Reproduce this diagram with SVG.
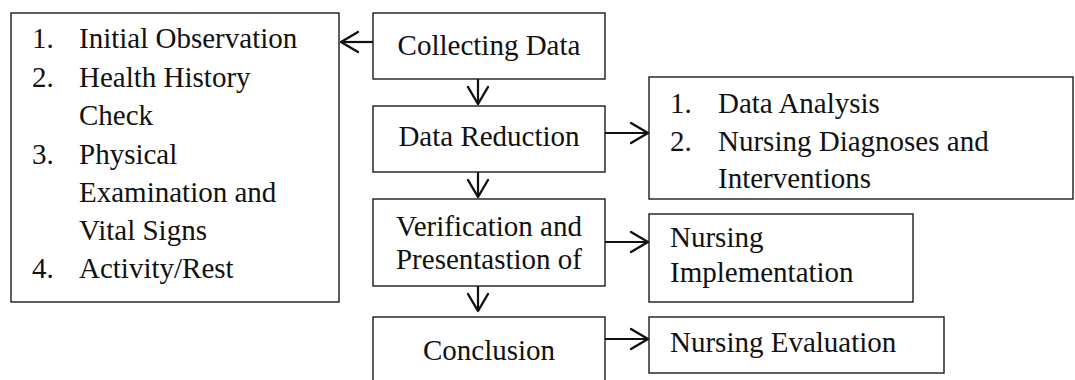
<svg xmlns="http://www.w3.org/2000/svg" width="1075" height="380" viewBox="0 0 1075 380">
<style>
.box{fill:#fff;stroke:#1a1a1a;stroke-width:1.4}
text{font-family:"Liberation Serif","Times New Roman",serif;font-size:29px;fill:#111}
.c{text-anchor:middle}
.conn{stroke:#111;stroke-width:2.2;fill:none}
</style>
<defs>
<marker id="ah" viewBox="-20 -12 22 24" markerWidth="22" markerHeight="24" refX="0" refY="0" orient="auto" markerUnits="userSpaceOnUse">
<path d="M-17,-10 L0,0 L-17,10" fill="none" stroke="#111" stroke-width="2.4" stroke-linejoin="round" stroke-linecap="round"/>
</marker>
</defs>
<rect width="1075" height="380" fill="#fff"/>
<g id="left-list">
<rect class="box" x="11" y="13" width="328" height="289"/>
<text x="32" y="48">1.</text><text x="79" y="48">Initial Observation</text>
<text x="32" y="86.5">2.</text><text x="79" y="86.5">Health History</text>
<text x="79" y="125">Check</text>
<text x="32" y="163.5">3.</text><text x="79" y="163.5">Physical</text>
<text x="79" y="202">Examination and</text>
<text x="79" y="240">Vital Signs</text>
<text x="32" y="278">4.</text><text x="79" y="278">Activity/Rest</text>
</g>
<g id="collecting">
<rect class="box" x="373" y="13" width="232" height="66"/>
<text class="c" x="489" y="55">Collecting Data</text>
</g>
<g id="reduction">
<rect class="box" x="373" y="106" width="232" height="66"/>
<text class="c" x="489" y="146">Data Reduction</text>
</g>
<g id="verification">
<rect class="box" x="373" y="199" width="232" height="87"/>
<text class="c" x="489" y="236">Verification and</text>
<text class="c" x="489" y="269">Presentastion of</text>
</g>
<g id="conclusion">
<rect class="box" x="373" y="317" width="232" height="80"/>
<text class="c" x="489" y="360">Conclusion</text>
</g>
<g id="analysis">
<rect class="box" x="649" y="77" width="424" height="122"/>
<text x="670" y="113">1.</text><text x="718" y="113">Data Analysis</text>
<text x="670" y="151">2.</text><text x="718" y="151">Nursing Diagnoses and</text>
<text x="718" y="188">Interventions</text>
</g>
<g id="implementation">
<rect class="box" x="649" y="214" width="264" height="88"/>
<text x="670" y="247">Nursing</text>
<text x="670" y="282">Implementation</text>
</g>
<g id="evaluation">
<rect class="box" x="649" y="317" width="295" height="56"/>
<text x="670" y="352">Nursing Evaluation</text>
</g>
<g id="connectors">
<line class="conn" x1="373" y1="42" x2="341" y2="42" marker-end="url(#ah)"/>
<line class="conn" x1="478" y1="79" x2="478" y2="104" marker-end="url(#ah)"/>
<line class="conn" x1="478" y1="172" x2="478" y2="197" marker-end="url(#ah)"/>
<line class="conn" x1="478" y1="286" x2="478" y2="311" marker-end="url(#ah)"/>
<line class="conn" x1="605" y1="133" x2="648" y2="133" marker-end="url(#ah)"/>
<line class="conn" x1="605" y1="242" x2="648" y2="242" marker-end="url(#ah)"/>
<line class="conn" x1="605" y1="339" x2="648" y2="339" marker-end="url(#ah)"/>
</g>
</svg>
